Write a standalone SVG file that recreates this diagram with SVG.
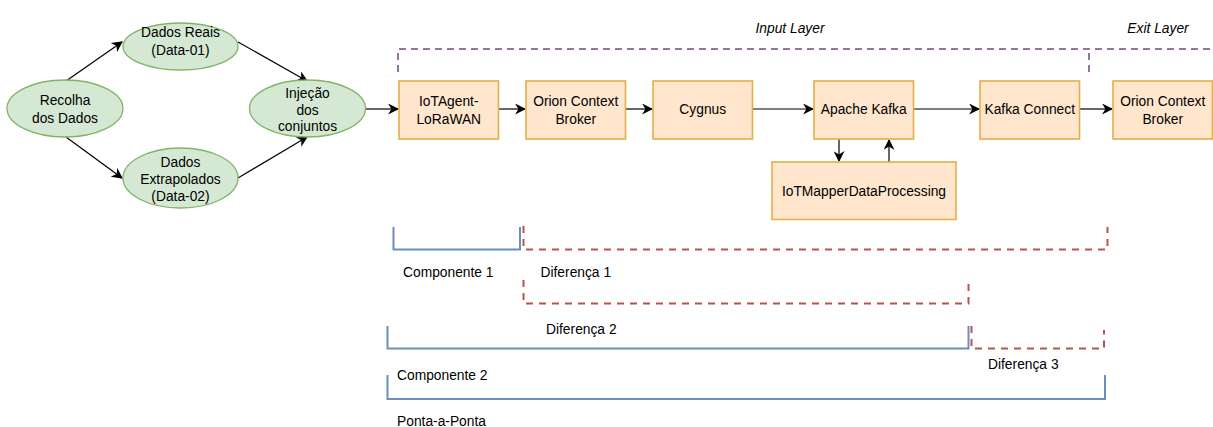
<svg xmlns="http://www.w3.org/2000/svg" width="1213" height="427" viewBox="0 0 1213 427">
<defs>
<marker id="ah" viewBox="0 0 10 10" refX="9" refY="5" markerWidth="11" markerHeight="11" markerUnits="userSpaceOnUse" orient="auto">
<path d="M0,0 L10,5 L0,10 L3,5 Z" fill="#000"/>
</marker>
<style>
text{font-family:"Liberation Sans",Arial,sans-serif;font-size:13.8px;fill:#000}
.el{fill:#d5e8d4;stroke:#82b366;stroke-width:1.3}
.bx{fill:#ffe6cc;stroke:#e0b04a;stroke-width:1.6}
.c{fill:none;stroke:#000;stroke-width:1.2;marker-end:url(#ah)}
.blue{fill:none;stroke:#6c8ebf;stroke-width:2}
.red{fill:none;stroke:#b85450;stroke-width:2;stroke-dasharray:7 6}
.pur{fill:none;stroke:#9673a6;stroke-width:2;stroke-dasharray:7 5}
.it{font-style:italic}
</style>
</defs>
<g id="layers">
<path class="pur" d="M398,72 L398,49 L1213,49"/>
<path class="pur" d="M1089,72 L1089,49"/>
<text class="it" x="790" y="33" text-anchor="middle">Input Layer</text>
<text class="it" x="1158" y="33" text-anchor="middle">Exit Layer</text>
</g>
<g id="connectors">
<line class="c" x1="66" y1="81" x2="122" y2="42"/>
<line class="c" x1="238" y1="42" x2="307" y2="81"/>
<line class="c" x1="66" y1="137" x2="122" y2="178"/>
<line class="c" x1="238" y1="178" x2="307" y2="137"/>
<line class="c" x1="366" y1="109" x2="398" y2="109"/>
<line class="c" x1="499" y1="109" x2="525" y2="109"/>
<line class="c" x1="626" y1="109" x2="652" y2="109"/>
<line class="c" x1="753" y1="109" x2="813" y2="109"/>
<line class="c" x1="914" y1="109" x2="979" y2="109"/>
<line class="c" x1="1080" y1="109" x2="1112" y2="109"/>
<line class="c" x1="839" y1="139" x2="839" y2="161"/>
<line class="c" x1="889" y1="162" x2="889" y2="140"/>
</g>
<g id="n-recolha">
<ellipse class="el" cx="65" cy="108.5" rx="58" ry="28.5"/>
<text x="65" y="105" text-anchor="middle">Recolha</text>
<text x="65" y="123" text-anchor="middle">dos Dados</text>
</g>
<g id="n-reais">
<ellipse class="el" cx="180.5" cy="46.5" rx="57.5" ry="23.5"/>
<text x="180.5" y="37" text-anchor="middle">Dados Reais</text>
<text x="180.5" y="55" text-anchor="middle">(Data-01)</text>
</g>
<g id="n-extra">
<ellipse class="el" cx="180.5" cy="178" rx="57.5" ry="30"/>
<text x="180.5" y="167" text-anchor="middle">Dados</text>
<text x="180.5" y="184" text-anchor="middle">Extrapolados</text>
<text x="180.5" y="201" text-anchor="middle">(Data-02)</text>
</g>
<g id="n-injecao">
<ellipse class="el" cx="307.5" cy="108.5" rx="58" ry="28.5"/>
<text x="307.5" y="98" text-anchor="middle">Injeção</text>
<text x="307.5" y="115" text-anchor="middle">dos</text>
<text x="307.5" y="131" text-anchor="middle">conjuntos</text>
</g>
<g id="n-iotagent">
<rect class="bx" x="399" y="81" width="99.5" height="58"/>
<text x="448.75" y="105.5" text-anchor="middle">IoTAgent-</text>
<text x="448.75" y="123.5" text-anchor="middle">LoRaWAN</text>
</g>
<g id="n-orion1">
<rect class="bx" x="526" y="81" width="99.5" height="58"/>
<text x="575.75" y="105.5" text-anchor="middle">Orion Context</text>
<text x="575.75" y="123.5" text-anchor="middle">Broker</text>
</g>
<g id="n-cygnus">
<rect class="bx" x="653" y="81" width="99.5" height="58"/>
<text x="702.75" y="114" text-anchor="middle">Cygnus</text>
</g>
<g id="n-kafka">
<rect class="bx" x="814" y="81" width="99.5" height="58"/>
<text x="863.75" y="114" text-anchor="middle">Apache Kafka</text>
</g>
<g id="n-kconnect">
<rect class="bx" x="980" y="81" width="99.5" height="58"/>
<text x="1029.75" y="114" text-anchor="middle">Kafka Connect</text>
</g>
<g id="n-orion2">
<rect class="bx" x="1113" y="81" width="99.5" height="58"/>
<text x="1162.75" y="105.5" text-anchor="middle">Orion Context</text>
<text x="1162.75" y="123.5" text-anchor="middle">Broker</text>
</g>
<g id="n-mapper">
<rect class="bx" x="772" y="162" width="184" height="57.5"/>
<text x="864" y="195.5" text-anchor="middle">IoTMapperDataProcessing</text>
</g>
<g id="brackets">
<path class="blue" d="M393.5,227 L393.5,249.5 L520,249.5 L520,227"/>
<path class="red" d="M523.5,226 L523.5,249.5 L1107.5,249.5 L1107.5,227"/>
<path class="red" d="M523.5,280 L523.5,303.5 L968.5,303.5 L968.5,280"/>
<path class="blue" d="M387.5,326 L387.5,348.5 L968.5,348.5 L968.5,326"/>
<path class="red" d="M971.5,326 L971.5,348.5 L1104,348.5 L1104,330"/>
<path class="blue" d="M387.5,375 L387.5,399 L1105,399 L1105,375"/>
<text x="403" y="276.5">Componente 1</text>
<text x="540.5" y="276.5">Diferença 1</text>
<text x="546" y="333.5">Diferença 2</text>
<text x="397" y="380">Componente 2</text>
<text x="397" y="426">Ponta-a-Ponta</text>
<text x="988" y="369">Diferença 3</text>
</g>
</svg>
